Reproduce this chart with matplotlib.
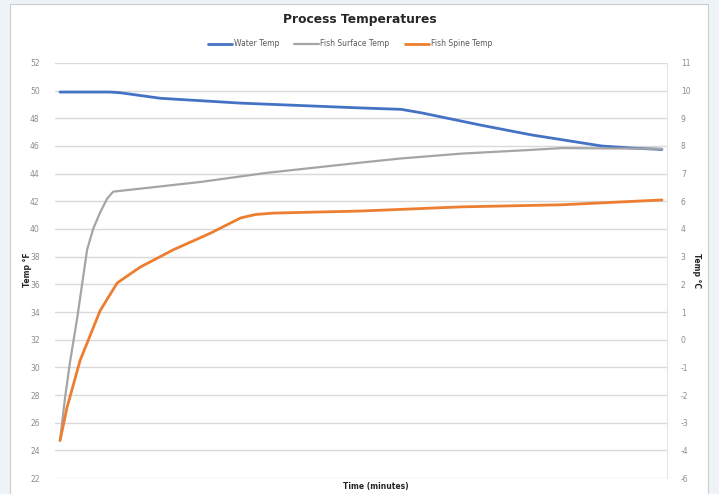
import matplotlib.pyplot as plt
import matplotlib.patches as patches
import numpy as np

# time in minutes, temperatures in deg F
water_t = [0, 10, 12, 16, 20, 36, 60, 68, 72, 76, 84, 94, 108, 114, 120]
water_f = [49.9, 49.9, 49.85, 49.65, 49.45, 49.1, 48.75, 48.65, 48.4, 48.1, 47.5, 46.8, 46.0, 45.85, 45.75]

surface_t = [0, 1, 2, 3.4, 5.4, 6.6, 8, 9.4, 10.6, 28, 41, 60, 68, 80, 93, 100, 120]
surface_f = [24.7, 27.8, 30.4, 33.5, 38.5, 40.0, 41.2, 42.2, 42.7, 43.4, 44.05, 44.8, 45.1, 45.45, 45.7, 45.85, 45.8]

spine_t = [0, 1.4, 4, 8, 11.4, 16, 22.6, 30, 36, 39, 42.6, 60, 80, 100, 120]
spine_f = [24.7, 27.1, 30.5, 34.1, 36.1, 37.25, 38.5, 39.7, 40.8, 41.05, 41.15, 41.3, 41.6, 41.75, 42.1]

ticks_f = list(range(22, 53, 2))

W, H = 719, 494
fig = plt.figure(figsize=(W / 100, H / 100), dpi=100)
fig.patch.set_facecolor("#eef3f7")
fig.patches.append(patches.Rectangle((10 / W, 0), 698 / W, 1 - 4 / H,
                                     transform=fig.transFigure, zorder=-10,
                                     facecolor="white", edgecolor="#c8cdd2", lw=0.8))

left, right, top, bottom = 55, 667, 63, 478
ax = fig.add_axes([left / W, 1 - bottom / H, (right - left) / W, (bottom - top) / H])
ax.set_facecolor("white")

ax.plot(water_t, water_f, color="#4472c4", lw=2.0, label="Water Temp", solid_capstyle="round")
ax.plot(surface_t, surface_f, color="#a5a5a5", lw=1.6, label="Fish Surface Temp", solid_capstyle="round")
ax.plot(spine_t, spine_f, color="#ed7d31", lw=2.0, label="Fish Spine Temp", solid_capstyle="round")

ax.set_xlim(-1, 121)
ax.set_ylim(22, 52)
ax.set_yticks(ticks_f)
ax.set_yticklabels([str(v) for v in ticks_f])
ax.set_xticks([])
ax.grid(axis="y", color="#d9d9d9", lw=1)
ax.set_axisbelow(True)
for s in ["top", "left", "bottom"]:
    ax.spines[s].set_visible(False)
ax.spines["right"].set_color("#e6e6e6")
ax.tick_params(axis="y", length=0, labelsize=5.5, labelcolor="#8c8c8c", pad=11)

ax2 = ax.twinx()
ax2.set_ylim(ax.get_ylim())
ax2.set_yticks(ticks_f)
ax2.set_yticklabels([f"{(v - 32) * 5 / 9:.0f}" for v in ticks_f])
ax2.tick_params(axis="y", length=0, labelsize=5.5, labelcolor="#8c8c8c", pad=10)
for s in ax2.spines.values():
    s.set_visible(False)

fig.text(360 / W, 1 - 19 / H, "Process Temperatures", ha="center", va="center",
         fontsize=8.8, fontweight="bold", color="#262626")
fig.text(27 / W, 1 - 270 / H, "Temp °F", rotation=90, ha="center", va="center",
         fontsize=5.5, fontweight="bold", color="#262626")
fig.text(697 / W, 1 - 270 / H, "Temp °C", rotation=270, ha="center", va="center",
         fontsize=5.5, fontweight="bold", color="#262626")
fig.text(376 / W, 1 - 486 / H, "Time (minutes)", ha="center", va="center",
         fontsize=5.5, fontweight="bold", color="#262626")

fig.legend(loc="center", bbox_to_anchor=(350 / W, 1 - 44 / H), ncol=3, frameon=False,
           fontsize=5.5, handlelength=3.2, columnspacing=2.0, handletextpad=0.2,
           labelcolor="#595959")

fig.savefig("out.png", dpi=100, facecolor=fig.get_facecolor())
